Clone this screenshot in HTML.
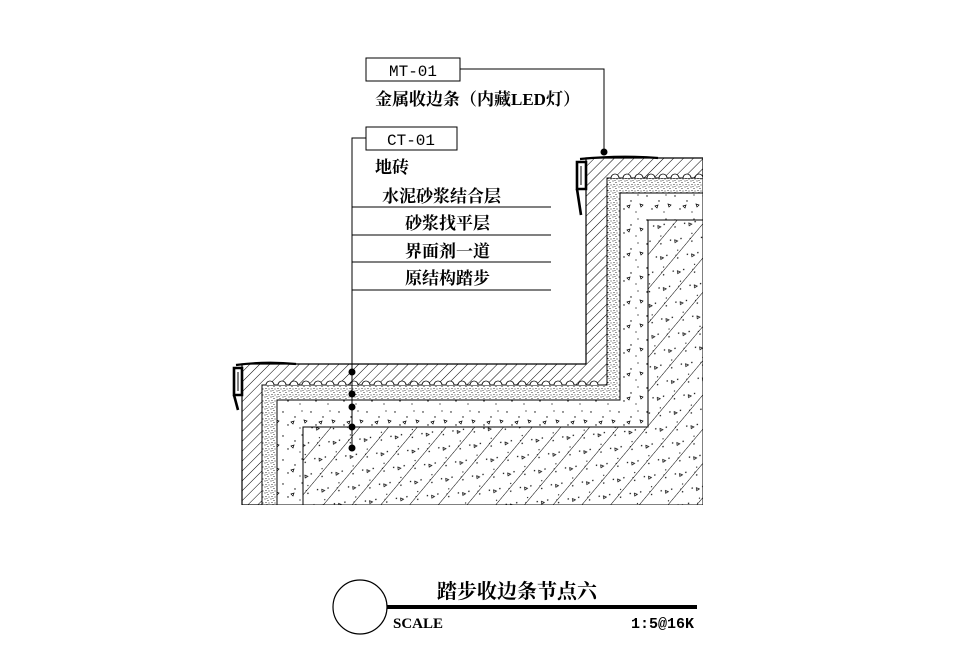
<!DOCTYPE html>
<html><head><meta charset="utf-8"><style>
html,body{margin:0;padding:0;background:#fff;}
svg{display:block;}
text{font-family:"Liberation Serif","Noto Serif CJK SC","Noto Sans CJK SC",serif;fill:#000;}
.mono{font-family:"Liberation Mono","Noto Sans CJK SC",monospace;}
</style></head><body>
<svg width="953" height="671" viewBox="0 0 953 671" xmlns="http://www.w3.org/2000/svg">
<defs>
<pattern id="hatch" width="7" height="7" patternUnits="userSpaceOnUse" patternTransform="rotate(45)">
<rect width="7" height="7" fill="#fff"/><line x1="0" y1="0" x2="0" y2="7" stroke="#000" stroke-width="1"/></pattern>
<pattern id="dense" width="6" height="6" patternUnits="userSpaceOnUse">
<rect width="6" height="6" fill="#fff"/>
<circle cx="1" cy="1" r="0.55" fill="#000"/><circle cx="4" cy="2.5" r="0.55" fill="#000"/><circle cx="2" cy="4.5" r="0.55" fill="#000"/><circle cx="5" cy="5" r="0.5" fill="#000"/><circle cx="3" cy="0.5" r="0.45" fill="#000"/></pattern>
<pattern id="sparse" width="28" height="24" patternUnits="userSpaceOnUse">
<rect width="28" height="24" fill="#fff"/>
<circle cx="3" cy="4" r="0.7" fill="#000"/><circle cx="15" cy="9" r="0.7" fill="#000"/><circle cx="22" cy="3" r="0.6" fill="#000"/><circle cx="8" cy="17" r="0.7" fill="#000"/><circle cx="20" cy="20" r="0.6" fill="#000"/>
<path d="M11 14 l3 -1 l-1 3z" fill="none" stroke="#000" stroke-width="0.7"/><path d="M24 12 l3 1 l-2 2z" fill="none" stroke="#000" stroke-width="0.7"/></pattern>
<pattern id="struct" width="22" height="22" patternUnits="userSpaceOnUse" patternTransform="rotate(40)">
<rect width="22" height="22" fill="url(#sparse)"/><line x1="0" y1="0" x2="0" y2="22" stroke="#000" stroke-width="1"/></pattern>
</defs>

<path d="M242 505 V364 H586 V158 H703 V505Z" fill="url(#hatch)" stroke="#000" stroke-width="1.2"/>
<path d="M262 505 V385 H607 V178 H703 V505Z" fill="url(#dense)" stroke="#000" stroke-width="1"/>
<path d="M277 505 V400 H620 V193 H703 V505Z" fill="url(#sparse)" stroke="#000" stroke-width="1"/>
<path d="M303 505 V427 H648 V220 H703 V505Z" fill="url(#struct)" stroke="#000" stroke-width="1"/>
<g fill="#fff" stroke="#000" stroke-width="0.8">
<path d="M266 385 a4 4 0 0 1 8 0 M278 385 a4 4 0 0 1 8 0 M290 385 a4 4 0 0 1 8 0 M302 385 a4 4 0 0 1 8 0 M314 385 a4 4 0 0 1 8 0 M326 385 a4 4 0 0 1 8 0 M338 385 a4 4 0 0 1 8 0 M350 385 a4 4 0 0 1 8 0 M362 385 a4 4 0 0 1 8 0 M374 385 a4 4 0 0 1 8 0 M386 385 a4 4 0 0 1 8 0 M398 385 a4 4 0 0 1 8 0 M410 385 a4 4 0 0 1 8 0 M422 385 a4 4 0 0 1 8 0 M434 385 a4 4 0 0 1 8 0 M446 385 a4 4 0 0 1 8 0 M458 385 a4 4 0 0 1 8 0 M470 385 a4 4 0 0 1 8 0 M482 385 a4 4 0 0 1 8 0 M494 385 a4 4 0 0 1 8 0 M506 385 a4 4 0 0 1 8 0 M518 385 a4 4 0 0 1 8 0 M530 385 a4 4 0 0 1 8 0 M542 385 a4 4 0 0 1 8 0 M554 385 a4 4 0 0 1 8 0 M566 385 a4 4 0 0 1 8 0 M578 385 a4 4 0 0 1 8 0 M590 385 a4 4 0 0 1 8 0"/>
<path d="M611 178 a4 4 0 0 1 8 0 M623 178 a4 4 0 0 1 8 0 M635 178 a4 4 0 0 1 8 0 M647 178 a4 4 0 0 1 8 0 M659 178 a4 4 0 0 1 8 0 M671 178 a4 4 0 0 1 8 0 M683 178 a4 4 0 0 1 8 0 M695 178 a4 4 0 0 1 8 0"/>
</g>
<rect x="703" y="150" width="20" height="360" fill="#fff"/>
<rect x="230" y="505" width="480" height="10" fill="#fff"/>

<g fill="none" stroke="#000" stroke-width="2.6">
<path d="M234 368 h8 v27 h-8 z"/>
<path d="M234 395 l4 15"/>
<path d="M236 365 q30 -4 60 -1" stroke-width="2.2"/>
<path d="M577 162 h9 v27 h-9 z"/>
<path d="M577 189 l4 26"/>
<path d="M580 159 q40 -4 78 -1" stroke-width="2.2"/>
</g>
<g stroke="#000" stroke-width="1"><line x1="238" y1="372" x2="238" y2="391"/><line x1="581" y1="166" x2="581" y2="185"/></g>

<rect x="366" y="58" width="94" height="23" fill="#fff" stroke="#000" stroke-width="1"/>
<text class="mono" x="413" y="76" font-size="16" text-anchor="middle">MT-01</text>
<path d="M460 69 H604 V152" fill="none" stroke="#000" stroke-width="1"/>
<circle cx="604" cy="152" r="3.5" fill="#000"/>
<text x="375" y="105" font-size="17" font-weight="bold">金属收边条（内藏LED灯）</text>

<rect x="366" y="127" width="91" height="23" fill="#fff" stroke="#000" stroke-width="1"/>
<text class="mono" x="411" y="145" font-size="16" text-anchor="middle">CT-01</text>
<path d="M366 138 H352 V448" fill="none" stroke="#000" stroke-width="1"/>
<g stroke="#000" stroke-width="1"><line x1="352" y1="207" x2="551" y2="207"/><line x1="352" y1="235" x2="551" y2="235"/><line x1="352" y1="262" x2="551" y2="262"/><line x1="352" y1="290" x2="551" y2="290"/></g>
<g fill="#000"><circle cx="352" cy="372" r="3.5"/><circle cx="352" cy="394" r="3.5"/><circle cx="352" cy="407" r="3.5"/><circle cx="352" cy="427" r="3.5"/><circle cx="352" cy="448" r="3.5"/></g>
<g font-size="17" font-weight="bold">
<text x="375" y="173">地砖</text>
<text x="382" y="202">水泥砂浆结合层</text>
<text x="405" y="229">砂浆找平层</text>
<text x="405" y="257">界面剂一道</text>
<text x="405" y="284">原结构踏步</text>
</g>

<circle cx="360" cy="607" r="27" fill="none" stroke="#000" stroke-width="1.2"/>
<rect x="387" y="605" width="310" height="4" fill="#000"/>
<text x="437" y="598" font-size="20" font-weight="bold">踏步收边条节点六</text>
<text x="393" y="628" font-size="15" font-weight="bold">SCALE</text>
<text class="mono" x="694" y="628" font-size="15" font-weight="bold" text-anchor="end">1:5@16K</text>
</svg>
</body></html>
